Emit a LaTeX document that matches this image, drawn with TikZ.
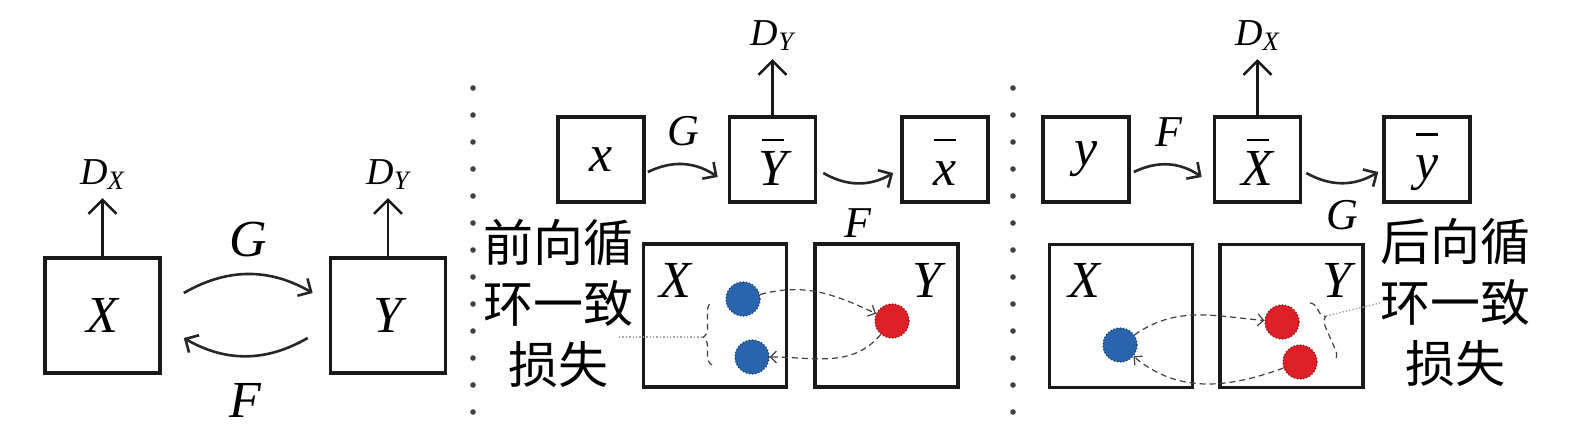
\documentclass[tikz,border=0pt]{standalone}
\usepackage{fontspec}
\usepackage{amsmath}
\setmainfont{Liberation Serif}
\newfontfamily\cjk{Noto Sans CJK SC}
\usepackage{tikz}
\usetikzlibrary{positioning,calc,arrows.meta,decorations.pathreplacing}
\definecolor{ptblue}{RGB}{42,100,172}
\definecolor{ptred}{RGB}{221,31,38}
\newcommand{\fakebar}[1]{\overset{\rule{11pt}{1.3pt}}{#1\vphantom{X}}}

\begin{document}
\begin{tikzpicture}[x=0.5pt,y=0.5pt,
    box/.style={draw=black!90, line width=1.8pt, inner sep=0pt, font=\fontsize{26}{26}\selectfont},
    bigbox/.style={box, minimum width=57.5pt, minimum height=57.5pt},
    smallbox/.style={box, minimum width=43pt, minimum height=42.5pt},
    areabox/.style={box, minimum width=71.5pt, minimum height=71.5pt},
    lbl/.style={inner sep=1pt, font=\fontsize{26}{26}\selectfont},
    arclbl/.style={inner sep=1pt, font=\fontsize{22}{22}\selectfont},
    dlbl/.style={inner sep=1pt, font=\fontsize{19}{19}\selectfont},
    txt/.style={inner sep=0pt, align=center, font=\cjk\fontsize{25}{30.5}\selectfont},
    disc/.style={draw=black!90, line width=1.2pt, shorten >=3pt, -{Straight Barb[length=7pt,width=14pt]}},
    gen/.style={draw=black!85, line width=1.3pt, -{Straight Barb[length=5pt,width=10pt]}},
    sepdot/.style={circle, fill=black!75, inner sep=0pt, minimum size=2.8pt},
    sample/.style={circle, inner sep=0pt, minimum size=17pt, densely dotted, line width=0.6pt},
    bluept/.style={sample, fill=ptblue, draw=ptblue!60!black},
    redpt/.style={sample, fill=ptred, draw=ptred!60!black},
    link/.style={draw=black!75, densely dashed, line width=0.6pt, -{Straight Barb[length=3pt,width=6pt]}},
    brc/.style={draw=black!75, densely dashed, line width=0.6pt, decorate},
    trail/.style={draw=black!35, densely dotted, line width=0.7pt}
]
    \useasboundingbox (0,0) rectangle (1575,-436);

    % GAN pair
    \node[bigbox] (bx) at (102.5,-315.5) {$\mathit{X}$};
    \node[bigbox] (by) at (388,-315.5) {$\mathit{Y}$};
    \node[dlbl, above=32pt of bx] (dx) {$\mathit{D}_{\mathit{X}}$};
    \node[dlbl, above=32pt of by] (dy) {$\mathit{D}_{\mathit{Y}}$};
    \draw[disc] (bx) -- (dx);
    \draw[disc] (by) -- (dy);
    \draw[gen] ([xshift=11pt,yshift=11.25pt]bx.east) to[bend left=30]
        node[lbl, above=7pt] {$\mathit{G}$} ([xshift=-8pt,yshift=11.25pt]by.west);
    \draw[gen] ([xshift=-10.5pt,yshift=-11.25pt]by.west) to[bend left=30]
        node[lbl, below=12pt] {$\mathit{F}$} ([xshift=11pt,yshift=-11.25pt]bx.east);

    % separators
    \foreach \k in {0,...,12} {
        \node[sepdot] (sa\k) at (473,-88-27*\k) {};
        \node[sepdot] (sb\k) at (1013,-88-27*\k) {};
    }

    % forward cycle
    \node[smallbox] (mx) at (601,-159.5) {$\mathit{x}$};
    \node[smallbox] (myb) at (772.5,-159.5) {$\fakebar{\mathit{Y}}$};
    \node[smallbox] (mxb) at (945,-159.5) {$\fakebar{\mathit{x}}$};
    \node[dlbl, above=31pt of myb] (mdy) {$\mathit{D}_{\mathit{Y}}$};
    \draw[disc] (myb) -- (mdy);
    \draw[gen] ([xshift=1pt,yshift=-6.25pt]mx.east) to[bend left=30]
        node[arclbl, above=7.5pt] {$\mathit{G}$} ([xshift=-5pt,yshift=-8.75pt]myb.west);
    \draw[gen] ([xshift=3pt,yshift=-6.75pt]myb.east) to[bend right=30]
        node[arclbl, below=11pt] {$\mathit{F}$} ([xshift=-3.5pt,yshift=-6.75pt]mxb.west);

    \node[txt] (mtxt) at (558,-303) {前向循\\环一致\\损失};
    \node[areabox] (mXd) at (715,-315.5) {};
    \node[areabox] (mYd) at (886.5,-315.5) {};
    \node[lbl] (mXl) at (675,-280) {$\mathit{X}$};
    \node[lbl] (mYl) at (927,-280) {$\mathit{Y}$};
    \node[bluept] (mb1) at (743,-299) {};
    \node[bluept] (mb2) at (752,-357) {};
    \node[redpt] (mr) at (892,-321) {};
    \draw[link] (mb1) to[out=15,in=155] (mr);
    \draw[link] (mr) to[out=-130,in=0] (mb2);
    \draw[brc, decoration={brace, amplitude=4.5pt, aspect=0.44}]
        ([shift={(-20pt,-4pt)}]mb2.center) -- ([shift={(-15.5pt,-1.5pt)}]mb1.center);
    \coordinate (mtip) at (702,-337);
    \coordinate (mfree) at (617,-337);
    \draw[trail] (mtip) -- (mfree);

    % backward cycle
    \node[smallbox] (ry) at (1086,-159.5) {$\mathit{y}$};
    \node[smallbox] (rxb) at (1257.5,-159.5) {$\fakebar{\mathit{X}}$};
    \node[smallbox] (ryb) at (1427,-159.5) {$\fakebar{\mathit{y}}$};
    \node[dlbl, above=31pt of rxb] (rdx) {$\mathit{D}_{\mathit{X}}$};
    \draw[disc] (rxb) -- (rdx);
    \draw[gen] ([xshift=1.5pt,yshift=-6.25pt]ry.east) to[bend left=30]
        node[arclbl, above=7.5pt] {$\mathit{F}$} ([xshift=-5.5pt,yshift=-8.75pt]rxb.west);
    \draw[gen] ([xshift=2pt,yshift=-6.75pt]rxb.east) to[bend right=30]
        node[arclbl, below=7pt] {$\mathit{G}$} ([xshift=-2pt,yshift=-6.25pt]ryb.west);

    \node[txt] (rtxt) at (1455,-303) {后向循\\环一致\\损失};
    \node[areabox] (rXd) at (1121,-316) {};
    \node[areabox] (rYd) at (1291.5,-316) {};
    \node[lbl] (rXl) at (1084,-280) {$\mathit{X}$};
    \node[lbl] (rYl) at (1337,-280) {$\mathit{Y}$};
    \node[bluept] (rb) at (1120,-345) {};
    \node[redpt] (rr1) at (1282,-322) {};
    \node[redpt] (rr2) at (1300,-362) {};
    \draw[link] (rb) to[out=35,in=175] (rr1);
    \draw[link] (rr2) to[out=200,in=-40] (rb);
    \draw[brc, decoration={brace, amplitude=4.5pt, aspect=0.3}]
        ([shift={(14pt,9.5pt)}]rr1.center) -- ([shift={(17.5pt,1pt)}]rr2.center);
    \coordinate (rtip) at (1326,-316);
    \coordinate (rfree) at (1380,-303);
    \draw[trail] (rtip) -- (rfree);
\end{tikzpicture}
\end{document}
